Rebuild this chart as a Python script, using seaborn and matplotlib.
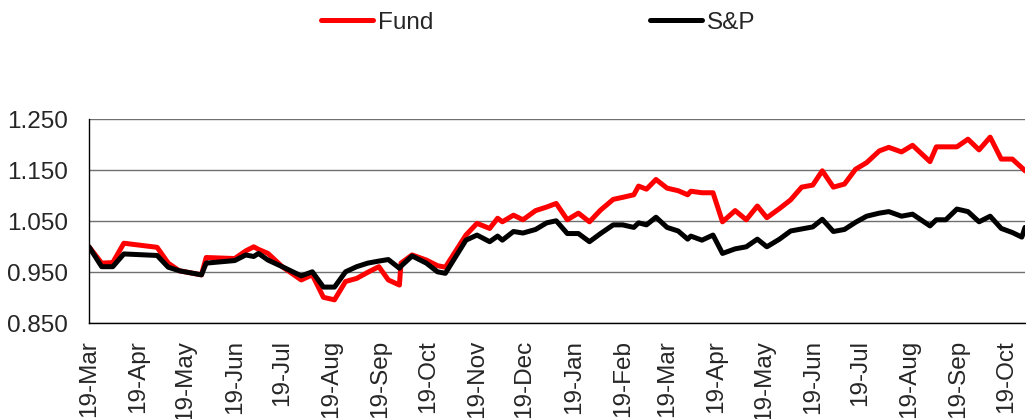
import pandas as pd
import matplotlib
matplotlib.use("Agg")
import matplotlib.pyplot as plt
import matplotlib.dates as mdates
import seaborn as sns

DATES = [
    "2009-03-19", "2009-03-27", "2009-04-03", "2009-04-10", "2009-05-01",
    "2009-05-08", "2009-05-15", "2009-05-29", "2009-06-01", "2009-06-19",
    "2009-06-26", "2009-07-01", "2009-07-04", "2009-07-10", "2009-07-19",
    "2009-07-31", "2009-08-07", "2009-08-14", "2009-08-21", "2009-08-28",
    "2009-09-04", "2009-09-11", "2009-09-18", "2009-09-24", "2009-10-01",
    "2009-10-02", "2009-10-09", "2009-10-18", "2009-10-25", "2009-10-30",
    "2009-11-12", "2009-11-19", "2009-11-27", "2009-12-02", "2009-12-05",
    "2009-12-12", "2009-12-18", "2009-12-26", "2010-01-02", "2010-01-08",
    "2010-01-15", "2010-01-22", "2010-01-29", "2010-02-05", "2010-02-13",
    "2010-02-19", "2010-02-26", "2010-03-01", "2010-03-06", "2010-03-12",
    "2010-03-19", "2010-03-26", "2010-04-01", "2010-04-03", "2010-04-10",
    "2010-04-17", "2010-04-23", "2010-05-01", "2010-05-08", "2010-05-15",
    "2010-05-21", "2010-05-29", "2010-06-05", "2010-06-12", "2010-06-19",
    "2010-06-25", "2010-07-02", "2010-07-09", "2010-07-16", "2010-07-23",
    "2010-07-31", "2010-08-06", "2010-08-14", "2010-08-21", "2010-09-01",
    "2010-09-05", "2010-09-11", "2010-09-18", "2010-09-25", "2010-10-02",
    "2010-10-09", "2010-10-16", "2010-10-23", "2010-10-29", "2010-10-31",
]

FUND = [
    1.000, 0.968, 0.969, 1.007, 0.999, 0.968, 0.953, 0.945, 0.979, 0.977,
    0.992, 1.000, 0.995, 0.987, 0.961, 0.935, 0.945, 0.901, 0.896, 0.932,
    0.938, 0.950, 0.961, 0.935, 0.925, 0.968, 0.984, 0.974, 0.963, 0.960,
    1.023, 1.046, 1.036, 1.056, 1.049, 1.062, 1.053, 1.071, 1.078, 1.085,
    1.053, 1.066, 1.049, 1.072, 1.093, 1.097, 1.102, 1.119, 1.113, 1.132,
    1.115, 1.110, 1.102, 1.109, 1.106, 1.106, 1.049, 1.071, 1.053, 1.080,
    1.057, 1.075, 1.092, 1.117, 1.121, 1.149, 1.117, 1.123, 1.152, 1.165,
    1.188, 1.195, 1.186, 1.199, 1.167, 1.196, 1.196, 1.196, 1.211, 1.190,
    1.215, 1.172, 1.172, 1.155, 1.149,
]

SP = [
    1.000, 0.961, 0.961, 0.986, 0.983, 0.960, 0.953, 0.945, 0.968, 0.973,
    0.984, 0.981, 0.987, 0.974, 0.961, 0.943, 0.951, 0.921, 0.921, 0.951,
    0.961, 0.968, 0.972, 0.975, 0.958, 0.962, 0.982, 0.968, 0.951, 0.948,
    1.013, 1.023, 1.010, 1.021, 1.013, 1.030, 1.027, 1.034, 1.047, 1.051,
    1.026, 1.026, 1.010, 1.026, 1.043, 1.043, 1.038, 1.047, 1.043, 1.058,
    1.038, 1.031, 1.015, 1.021, 1.013, 1.023, 0.987, 0.996, 1.000, 1.015,
    1.000, 1.015, 1.031, 1.035, 1.039, 1.054, 1.030, 1.034, 1.048, 1.060,
    1.066, 1.069, 1.060, 1.064, 1.041, 1.053, 1.053, 1.074, 1.069, 1.049,
    1.060, 1.036, 1.028, 1.019, 1.038,
]

Y_TICKS = [0.850, 0.950, 1.050, 1.150, 1.250]

sns.set_theme(style="white")
plt.rcParams["font.family"] = ["Liberation Sans", "DejaVu Sans"]
plt.rcParams["font.size"] = 17.5

df = pd.DataFrame({"date": pd.to_datetime(DATES), "Fund": FUND, "S&P": SP})

fig = plt.figure(figsize=(10.26, 4.19), dpi=100)
ax = fig.add_axes([89 / 1026, 1 - 323.3 / 419, (1025 - 89) / 1026, (323.3 - 119.3) / 419])

line_kw = dict(linewidth=3.6, solid_joinstyle="round", solid_capstyle="round")
sns.lineplot(data=df, x="date", y="Fund", color="#ff0000", label="Fund", ax=ax, **line_kw)
sns.lineplot(data=df, x="date", y="S&P", color="#000000", label="S&P", ax=ax, **line_kw)

ax.set_xlim(pd.Timestamp("2009-03-19"), pd.Timestamp("2010-10-31"))
ax.set_ylim(0.85, 1.25)
ax.set_yticks(Y_TICKS)
ax.yaxis.set_major_formatter(plt.FormatStrFormatter("%.3f"))
ax.xaxis.set_major_locator(mdates.MonthLocator(bymonthday=19))
ax.xaxis.set_major_formatter(mdates.DateFormatter("%d-%b"))
ax.tick_params(axis="x", rotation=90, length=7, width=1, color="black", pad=5, labelsize=17.5)
ax.tick_params(axis="y", length=7, width=1, color="black", pad=8, labelsize=17.5)
ax.set_xlabel("")
ax.set_ylabel("")

ax.grid(axis="y", color="#707070", linewidth=1.0)
ax.grid(axis="x", visible=False)
for side in ["top", "right"]:
    ax.spines[side].set_visible(False)
for side in ["left", "bottom"]:
    ax.spines[side].set_color("black")
    ax.spines[side].set_linewidth(1.0)

ax.get_legend().remove()
handles, labels = ax.get_legend_handles_labels()
fig.legend(
    handles, labels,
    loc="center",
    bbox_to_anchor=(538 / 1026, 1 - 23 / 419),
    ncol=2,
    frameon=False,
    handlelength=2.15,
    handletextpad=0.2,
    columnspacing=8.9,
    fontsize=17.5,
)

fig.savefig("out.png", dpi=100)
